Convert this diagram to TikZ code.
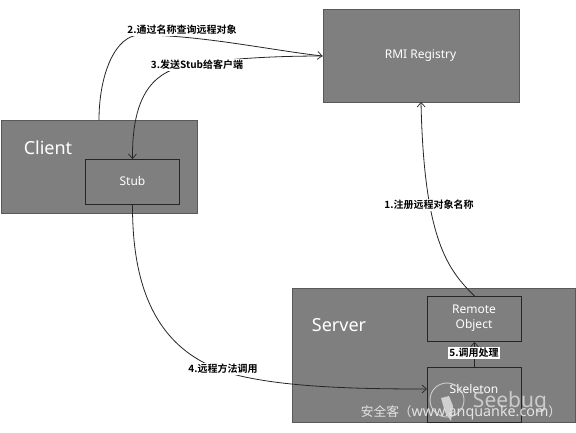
\documentclass[tikz,border=0pt]{standalone}
\usepackage{fontspec}
\setmainfont{Noto Sans}
\newfontfamily\cjk{Noto Sans CJK SC}[BoldFont={Noto Sans CJK SC Bold}]
\usetikzlibrary{arrows.meta}
\definecolor{boxgrey}{HTML}{7F7F7F}
\definecolor{wmark}{HTML}{E4E4E4}
\tikzset{
  x=1pt,y=-1pt,
  outerbox/.style={draw=black!65,line width=1pt,fill=boxgrey,anchor=north west,inner sep=0pt},
  innerbox/.style={draw=black!85,line width=1pt,fill=boxgrey,anchor=north west,inner sep=0pt},
  boxtitle/.style={text=white,font=\fontsize{18}{20}\selectfont,inner sep=0pt},
  boxlabel/.style={text=white,font=\fontsize{12}{15}\selectfont,inner sep=0pt,align=center},
  steplabel/.style={text=black,font=\cjk\bfseries\fontsize{10}{11}\selectfont,inner sep=1pt,fill=white},
  conn/.style={draw=black!85,line width=0.8pt,-{Straight Barb[length=4.5pt,width=8pt,line width=0.7pt]}},
}
\begin{document}
\begin{tikzpicture}
\useasboundingbox (0,0) rectangle (576,432);
\fill[white] (0,0) rectangle (576,432);
\node[outerbox,minimum width=196pt,minimum height=93pt] (registry) at (322.5,9) {};
\node[outerbox,minimum width=196pt,minimum height=93pt] (client) at (0.5,120) {};
\node[outerbox,minimum width=283pt,minimum height=134pt] (server) at (292,288) {};
\node[innerbox,minimum width=94pt,minimum height=45pt] (stub) at (85,159) {};
\node[innerbox,minimum width=94pt,minimum height=45pt] (remote) at (427,296) {};
\node[innerbox,minimum width=94pt,minimum height=55pt] (skeleton) at (427,367) {};
\node[boxlabel] (registrytext) at (420.5,56) {RMI Registry};
\node[boxtitle] (clienttext) at (48,148) {Client};
\node[boxlabel] (stubtext) at (132.5,181) {Stub};
\node[boxtitle] (servertext) at (339,325) {Server};
\node[boxlabel] (remotetext) at (474,318) {Remote\\Object};
\node[boxlabel] (skeletontext) at (474,389) {Skeleton};
\draw[conn] (remote.north) .. controls (448,270) and (424,240) .. (421,102);
\draw[conn] (client.north -| 99,0) .. controls (99,75) and (115,35) .. (140,35) .. controls (200,35) and (270,50) .. (registry.west);
\draw[conn] (registry.west) .. controls (280,56) and (225,58) .. (185,66) .. controls (150,73) and (132,100) .. (stub.north);
\draw[conn] (stub.south) .. controls (132,320) and (180,365) .. (250,378) .. controls (300,388) and (370,389) .. (skeleton.west |- 0,389);
\draw[conn] (skeleton.north) -- (remote.south);
\node[steplabel] (l2) at (182,30) {2.通过名称查询远程对象};
\node[steplabel] (l3) at (197,65) {3.发送Stub给客户端};
\node[steplabel] (l1) at (429,205) {1.注册远程对象名称};
\node[steplabel] (l4) at (223,369) {4.远程方法调用};
\node[steplabel] (l5) at (474,353) {5.调用处理};
\draw[wmark!80!boxgrey,line width=0.9pt] (447,400) circle (17pt);
\fill[wmark!80!boxgrey] (441,398) -- (449,396) -- (453,406) -- (451,421) -- (445,412) -- cycle;
\node[text=wmark!75!boxgrey,font=\fontsize{21}{25}\selectfont,inner sep=0pt] (seebug) at (510,402) {Seebug};
\node[text=wmark,font=\fontsize{14.3}{16}\selectfont,inner sep=0pt] (wm) at (461,413) {{\cjk\fontsize{12.7}{16}\selectfont 安全客（}www.anquanke.com{\cjk\fontsize{12.7}{16}\selectfont ）}};
\end{tikzpicture}
\end{document}
